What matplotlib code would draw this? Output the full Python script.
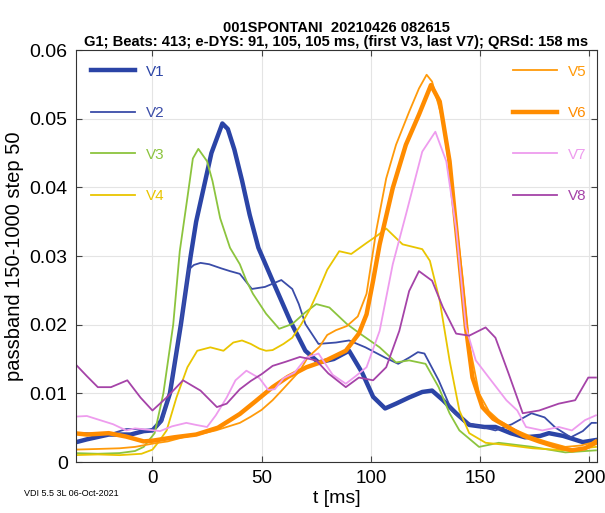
import numpy as np
import matplotlib
matplotlib.use("Agg")
import matplotlib.pyplot as plt

plt.rcParams['font.family'] = ['Liberation Sans', 'DejaVu Sans']

# values (t in ms, passband amplitude)
t_v1 = [-36, -30, -20, -10, -4, 0, 4, 8, 10, 13, 17.5, 20, 23.5, 27, 32, 34.5, 37.5, 41, 44.5, 48.5,
        55, 63, 70, 76, 83, 90, 96, 101, 106.5, 111.5, 117.5, 123.5, 128, 133, 139, 145, 152, 157,
        164, 170.5, 177.5, 181.5, 188, 197, 203]
v1 = [0.0028, 0.0033, 0.0040, 0.0040, 0.0045, 0.0046, 0.0060, 0.0100, 0.0140, 0.0200, 0.0300, 0.0350,
      0.0400, 0.0450, 0.0493, 0.0485, 0.0455, 0.0410, 0.0360, 0.0312, 0.0264, 0.0206, 0.0162, 0.0145,
      0.0150, 0.0162, 0.0130, 0.0095, 0.0078, 0.0085, 0.0094, 0.0102, 0.0104, 0.0090, 0.0071, 0.0054,
      0.0051, 0.0051, 0.0042, 0.0036, 0.0038, 0.0042, 0.0038, 0.0029, 0.0032]

t_v2 = [-36, -30, -20, -12, -6, -2, 1.5, 4.5, 7.5, 10, 13, 16.5, 19, 22, 26, 31.5, 35.5, 40, 45.5, 51.5,
        59, 64, 67, 70, 76, 84, 90, 97.5, 106.5, 112.5, 117.5, 121.5, 124.5, 131, 137, 143, 152, 157,
        164.5, 173.5, 179.5, 184.5, 191.5, 197, 201, 203]
v2 = [0.0042, 0.0042, 0.0040, 0.0048, 0.0048, 0.0046, 0.0050, 0.0060, 0.0095, 0.0140, 0.0200, 0.0280,
      0.0287, 0.0290, 0.0288, 0.0282, 0.0278, 0.0274, 0.0252, 0.0255, 0.0265, 0.0252, 0.0230, 0.0201,
      0.0172, 0.0174, 0.0177, 0.0167, 0.0152, 0.0143, 0.0152, 0.0160, 0.0158, 0.0119, 0.0075, 0.0058,
      0.0050, 0.0046, 0.0055, 0.0071, 0.0065, 0.0050, 0.0036, 0.0045, 0.0057, 0.0057]

t_v3 = [-36, -25, -15, -8, -4, 1, 5, 9.5, 12.5, 16, 18.5, 21, 25, 27.5, 31, 35.5, 40, 43, 46, 52,
        58, 64, 70, 75, 81, 89, 95, 104, 111.5, 117.5, 125, 131, 136, 140.5, 149.5, 158.5, 174, 189, 203]
v3 = [0.0013, 0.0012, 0.0013, 0.0016, 0.0022, 0.0042, 0.0100, 0.0200, 0.0307, 0.0385, 0.0442, 0.0456,
      0.0438, 0.0409, 0.0355, 0.0312, 0.0288, 0.0264, 0.0245, 0.0216, 0.0194, 0.0201, 0.0218, 0.0230,
      0.0225, 0.0201, 0.0187, 0.0167, 0.0145, 0.0148, 0.0143, 0.0109, 0.0071, 0.0046, 0.0022, 0.0028,
      0.0022, 0.0014, 0.0017]

t_v4 = [-36, -25, -15, -5, 0, 3, 6.5, 11, 16, 20.5, 26.5, 32.5, 37, 41, 45, 49, 52, 55, 60, 64,
        68, 72, 76, 80, 85.5, 91, 98, 103, 107, 114.5, 123.5, 127, 131.5, 136, 140.5, 145, 152.5,
        161.5, 174, 189, 203]
v4 = [0.0010, 0.0011, 0.0010, 0.0012, 0.0018, 0.0030, 0.0046, 0.0094, 0.0138, 0.0162, 0.0167, 0.0162,
      0.0174, 0.0177, 0.0172, 0.0165, 0.0162, 0.0163, 0.0172, 0.0181, 0.0200, 0.0222, 0.0250, 0.0280,
      0.0307, 0.0303, 0.0319, 0.0330, 0.0340, 0.0317, 0.0310, 0.0293, 0.0235, 0.0148, 0.0075, 0.0042,
      0.0028, 0.0025, 0.0020, 0.0017, 0.0022]

t_v5 = [-36, -25, -15, -8, 0.5, 7, 14, 21, 29, 35, 40, 45, 50, 55, 60, 67.5, 71, 76.5, 80, 84,
        89, 94, 98, 102.5, 107, 111.5, 117.5, 122, 125.5, 128, 133, 137.5, 142, 145, 149.5, 154,
        158.5, 166, 174, 181, 189, 196, 201, 203]
v5 = [0.0018, 0.0019, 0.0020, 0.0022, 0.0027, 0.0030, 0.0036, 0.0040, 0.0046, 0.0052, 0.0057, 0.0066,
      0.0076, 0.0090, 0.0107, 0.0133, 0.0152, 0.0168, 0.0185, 0.0192, 0.0198, 0.0212, 0.0245, 0.0338,
      0.0413, 0.0462, 0.0510, 0.0544, 0.0564, 0.0554, 0.0496, 0.0390, 0.0268, 0.0172, 0.0100, 0.0074,
      0.0061, 0.0047, 0.0036, 0.0029, 0.0022, 0.0024, 0.0028, 0.0032]

t_v6 = [-36, -30, -20, -12, -4, 0, 10, 20, 30, 40, 47, 55, 62, 70.5, 79.5, 88.5, 94.5, 98, 101, 104,
        110, 116, 122, 127.5, 131.5, 136, 140.5, 143.5, 146.5, 151, 156, 162, 170, 177, 184, 192,
        198, 203]
v6 = [0.0042, 0.0040, 0.0042, 0.0037, 0.0030, 0.0031, 0.0036, 0.0040, 0.0050, 0.0070, 0.0088, 0.0109,
      0.0124, 0.0138, 0.0148, 0.0162, 0.0187, 0.0215, 0.0264, 0.0317, 0.0399, 0.0462, 0.0506, 0.0549,
      0.0525, 0.0438, 0.0293, 0.0196, 0.0123, 0.0080, 0.0063, 0.0052, 0.0038, 0.0030, 0.0023, 0.0017,
      0.0020, 0.0028]

t_v7 = [-36, -30, -24, -18, -12, -8, -2, 3.5, 9, 15.5, 20, 25, 29, 34, 38, 43, 49, 53, 56, 60,
        65, 70.5, 76, 82.5, 88.5, 93, 98, 104, 110, 116, 123.5, 129.5, 134.5, 139, 143.5, 148, 154,
        162, 167, 171, 178.5, 186, 192, 198, 203]
v7 = [0.0066, 0.0067, 0.0061, 0.0055, 0.0046, 0.0049, 0.0047, 0.0045, 0.0052, 0.0057, 0.0054, 0.0051,
      0.0068, 0.0094, 0.0119, 0.0133, 0.0122, 0.0105, 0.0106, 0.0122, 0.0130, 0.0152, 0.0158, 0.0127,
      0.0114, 0.0125, 0.0138, 0.0191, 0.0288, 0.0360, 0.0452, 0.0481, 0.0438, 0.0340, 0.0196, 0.0148,
      0.0123, 0.0090, 0.0075, 0.0051, 0.0046, 0.0051, 0.0046, 0.0061, 0.0068]

t_v8 = [-36, -34.5, -30, -25, -19, -11.5, -5.5, 0, 6.5, 14, 22, 29.5, 34, 40, 45, 50, 55, 61, 67.5, 75,
        80.5, 88.5, 94.5, 101, 107, 113, 117.5, 122, 128, 133, 139, 145, 152.5, 157, 163, 169.5,
        177, 186, 193.5, 199.5, 203]
v8 = [0.0145, 0.0140, 0.0125, 0.0109, 0.0109, 0.0119, 0.0094, 0.0075, 0.0094, 0.0119, 0.0104, 0.0080,
      0.0085, 0.0106, 0.0118, 0.0128, 0.0140, 0.0146, 0.0153, 0.0148, 0.0129, 0.0109, 0.0123, 0.0119,
      0.0138, 0.0191, 0.0249, 0.0278, 0.0264, 0.0225, 0.0187, 0.0184, 0.0196, 0.0181, 0.0129, 0.0071,
      0.0075, 0.0085, 0.0090, 0.0123, 0.0123]

leads = ['V1', 'V2', 'V3', 'V4', 'V5', 'V6', 'V7', 'V8']
series = [(t_v1, v1), (t_v2, v2), (t_v3, v3), (t_v4, v4),
          (t_v5, v5), (t_v6, v6), (t_v7, v7), (t_v8, v8)]
colors = ['#2b44a6', '#3a4ca8', '#8cc43e', '#e9c500', '#ff9a0a', '#ff8c00', '#ee9cee', '#a543a8']
widths = [3.2, 1.3, 1.3, 1.3, 1.3, 3.2, 1.3, 1.3]

fig = plt.figure(figsize=(6.05, 5.13), dpi=100)
ax = fig.add_axes([0.1256, 0.0994, 0.8612, 0.8031])

lines = []
for name, (t, v), c, w in zip(leads, series, colors, widths):
    ln, = ax.plot(t, v, color=c, lw=w, label=name, solid_joinstyle='round')
    lines.append(ln)

ax.set_xlim(-35, 203.5)
ax.set_ylim(0, 0.06)
ax.set_xticks([0, 50, 100, 150, 200])
ax.set_yticks(np.arange(0, 0.061, 0.01))
ax.yaxis.set_major_formatter(plt.FuncFormatter(lambda v, p: f"{v:g}"))
ax.grid(True, color='#e4e4e4', lw=0.8)
ax.set_axisbelow(True)
ax.tick_params(direction='in', top=True, right=True, labelsize=14, length=4,
               color='#444444', pad=6)
ax.tick_params(axis='x', labelsize=13.5)
for s in ax.spines.values():
    s.set_color('#333333')
    s.set_linewidth(0.8)

ax.set_xlabel('t [ms]', fontsize=14, labelpad=2)
ax.set_ylabel('passband 150-1000 step 50', fontsize=14.5, labelpad=4)
ax.set_title('001SPONTANI  20210426 082615\n'
             'G1; Beats: 413; e-DYS: 91, 105, 105 ms, (first V3, last V7); QRSd: 158 ms',
             fontsize=10.6, fontweight='bold', linespacing=1.02, pad=3)

leg1 = ax.legend(handles=lines[:4], loc='upper left', frameon=False, fontsize=11,
                 labelcolor='linecolor', handlelength=2.9, handletextpad=0.7,
                 labelspacing=1.8, borderaxespad=0.55)
ax.add_artist(leg1)
ax.legend(handles=lines[4:], loc='upper right', bbox_to_anchor=(1.008, 1.0), frameon=False,
          fontsize=11, labelcolor='linecolor', handlelength=2.9, handletextpad=0.7,
          labelspacing=1.8, borderaxespad=0.55)

fig.text(0.04, 0.033, 'VDI 5.5 3L 06-Oct-2021', fontsize=6.5)

fig.savefig('out.png', dpi=100)
